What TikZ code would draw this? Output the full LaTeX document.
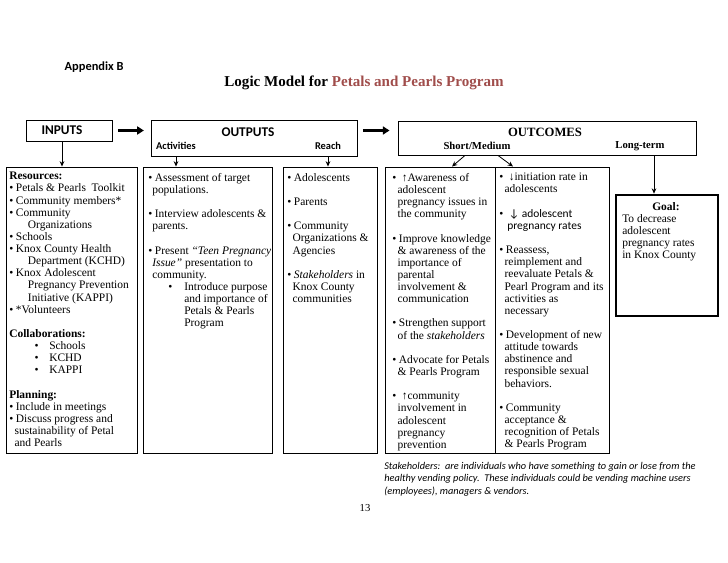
\documentclass[tikz,border=0pt]{standalone}
\usepackage{fontspec}
\setmainfont{Liberation Serif}
\setsansfont{Carlito}
\usetikzlibrary{arrows.meta,fit,calc,positioning}
\definecolor{titlered}{RGB}{160,77,75}
\newcommand{\bt}{\makebox[5pt][l]{\textbullet}}
\newcommand{\ind}[1]{\hspace*{#1}}
\tikzset{
  box/.style={draw,line width=0.7pt,inner sep=0pt},
  hdr/.style={font=\sffamily\bfseries\fontsize{10}{12}\selectfont},
  sub/.style={font=\sffamily\bfseries\fontsize{7.8}{9}\selectfont},
  shdr/.style={font=\bfseries\fontsize{9.5}{11}\selectfont},
  ssub/.style={font=\bfseries\fontsize{8}{9}\selectfont},
  blk/.style={anchor=north west,align=left,inner sep=0pt,font=\fontsize{8.6}{9.1}\selectfont},
  darr/.style={-{Stealth[length=4pt,width=3.5pt]},line width=0.6pt},
  bigarr/.style={-{Triangle[length=5pt,width=6pt]},line width=1.8pt}
}
\begin{document}
\begin{tikzpicture}[x=0.75pt,y=-0.75pt]
  \useasboundingbox (0,0) rectangle (728,563);

  % headings
  \node[anchor=west,font=\sffamily\bfseries\fontsize{9.3}{11}\selectfont] (appx) at (60,67) {Appendix B};
  \node[font=\bfseries\fontsize{11.3}{13}\selectfont] (title) at (364,83)
    {Logic Model for \textcolor{titlered}{Petals and Pearls Program}};

  % header boxes
  \node[box,fit={(26,120) (112,141)}] (inbox) {};
  \node[hdr] (inlbl) at (62,130) {INPUTS};
  \node[box,fit={(151,120) (357,156)}] (outbox) {};
  \node[hdr] (outlbl) at (248,132) {OUTPUTS};
  \node[sub] (actlbl) at (176,146) {Activities};
  \node[sub] (reachlbl) at (328,146) {Reach};
  \node[box,fit={(398,121) (696,155)}] (outcbox) {};
  \node[shdr] (outclbl) at (545,132) {OUTCOMES};
  \node[ssub] (smlbl) at (477,146) {Short/Medium};
  \node[ssub] (ltlbl) at (640,146) {Long-term};

  % content boxes
  \node[box,fit={(6,167) (137,453)}] (resbox) {};
  \node[box,fit={(143,167) (272,453)}] (actbox) {};
  \node[box,fit={(283,167) (377,453)}] (reachbox) {};
  \node[box,fit={(385,167) (495,453)}] (smbox) {};
  \node[box,fit={(495,167) (609,453)}] (mdbox) {};
  \node[box,line width=2pt,fit={(616,195) (718,316)}] (goalbox) {};

  \node[blk] (restxt) at (9,172) {%
    \textbf{Resources:}\\
    \bt Petals \& Pearls\ \ Toolkit\\
    \bt Community members*\\
    \bt Community\\
    \ind{14pt}Organizations\\
    \bt Schools\\
    \bt Knox County Health\\
    \ind{14pt}Department (KCHD)\\
    \bt Knox Adolescent\\
    \ind{14pt}Pregnancy Prevention\\
    \ind{14pt}Initiative (KAPPI)\\
    \bt *Volunteers\\[9.1pt]
    \textbf{Collaborations:}\\
    \ind{19pt}\makebox[11pt][l]{\textbullet}Schools\\
    \ind{19pt}\makebox[11pt][l]{\textbullet}KCHD\\
    \ind{19pt}\makebox[11pt][l]{\textbullet}KAPPI\\[9.1pt]
    \textbf{Planning:}\\
    \bt Include in meetings\\
    \bt Discuss progress and\\
    \ind{4pt}sustainability of Petal\\
    \ind{4pt}and Pearls};

  \node[blk] (acttxt) at (148,173) {%
    \bt Assessment of target\\
    \ind{3pt}populations.\\[9.1pt]
    \bt Interview adolescents \&\\
    \ind{3pt}parents.\\[9.1pt]
    \bt Present \textit{``Teen Pregnancy}\\
    \ind{3pt}\textit{Issue''} presentation to\\
    \ind{3pt}community.\\
    \ind{15pt}\makebox[12pt][l]{\textbullet}Introduce purpose\\
    \ind{27pt}and importance of\\
    \ind{27pt}Petals \& Pearls\\
    \ind{27pt}Program};

  \node[blk] (reachtxt) at (287,173) {%
    \bt Adolescents\\[9.1pt]
    \bt Parents\\[9.1pt]
    \bt Community\\
    \ind{4pt}Organizations \&\\
    \ind{4pt}Agencies\\[9.1pt]
    \bt \textit{Stakeholders} in\\
    \ind{4pt}Knox County\\
    \ind{4pt}communities};

  \node[blk] (smtxt) at (392,173) {%
    \bt\ ↑Awareness of\\
    \ind{4pt}adolescent\\
    \ind{4pt}pregnancy issues in\\
    \ind{4pt}the community\\[9.1pt]
    \bt Improve knowledge\\
    \ind{4pt}\& awareness of the\\
    \ind{4pt}importance of\\
    \ind{4pt}parental\\
    \ind{4pt}involvement \&\\
    \ind{4pt}communication\\[9.1pt]
    \bt Strengthen support\\
    \ind{4pt}of the \textit{stakeholders}\\[9.1pt]
    \bt Advocate for Petals\\
    \ind{4pt}\& Pearls Program\\[9.1pt]
    \bt\ ↑community\\
    \ind{4pt}involvement in\\
    \ind{4pt}adolescent\\
    \ind{4pt}pregnancy\\
    \ind{4pt}prevention};

  \node[blk] (mdtxt) at (499,173) {%
    \bt\ ↓initiation rate in\\
    \ind{4pt}adolescents\\[9.1pt]
    \bt\ {\sffamily ↓ adolescent}\\
    \ind{6pt}{\sffamily pregnancy rates}\\[9.1pt]
    \bt Reassess,\\
    \ind{4pt}reimplement and\\
    \ind{4pt}reevaluate Petals \&\\
    \ind{4pt}Pearl Program and its\\
    \ind{4pt}activities as\\
    \ind{4pt}necessary\\[9.1pt]
    \bt Development of new\\
    \ind{4pt}attitude towards\\
    \ind{4pt}abstinence and\\
    \ind{4pt}responsible sexual\\
    \ind{4pt}behaviors.\\[9.1pt]
    \bt Community\\
    \ind{4pt}acceptance \&\\
    \ind{4pt}recognition of Petals\\
    \ind{4pt}\& Pearls Program};

  \node[font=\bfseries\fontsize{8.6}{9}\selectfont] (goallbl) at (666,207) {Goal:};
  \node[blk] (goaltxt) at (622,214) {%
    To decrease\\
    adolescent\\
    pregnancy rates\\
    in Knox County};

  % note and page number
  \node[blk,font=\sffamily\itshape\fontsize{7.75}{9.4}\selectfont] (note) at (384,462) {%
    Stakeholders:\ \ are individuals who have something to gain or lose from the\\
    healthy vending policy.\ \ These individuals could be vending machine users\\
    (employees), managers \& vendors.};
  \node[font=\fontsize{8}{9}\selectfont] (pgno) at (365,508) {13};

  % connectors
  \draw[bigarr] ([xshift=4.5pt]inbox.east) -- ([xshift=-5pt]outbox.west |- inbox.east);
  \draw[bigarr] ([xshift=4pt]outbox.east |- inbox.east) -- ([xshift=-6pt]outcbox.west |- inbox.east);
  \draw[darr] (inlbl |- inbox.south) -- (inlbl |- resbox.north);
  \draw[darr] (actlbl |- outbox.south) -- (actlbl |- actbox.north);
  \draw[darr] (reachlbl |- outbox.south) -- (reachlbl |- reachbox.north);
  \draw[darr] ($(smlbl |- outcbox.south)+(-12,0)$) -- ($(smlbl |- smbox.north)+(-25,0)$);
  \draw[darr] ($(smlbl |- outcbox.south)+(21,0)$) -- ($(smlbl |- smbox.north)+(36,0)$);
  \draw[darr] ($(ltlbl |- outcbox.south)+(14,0)$) -- ($(ltlbl |- goalbox.north)+(14,0)$);
\end{tikzpicture}
\end{document}
